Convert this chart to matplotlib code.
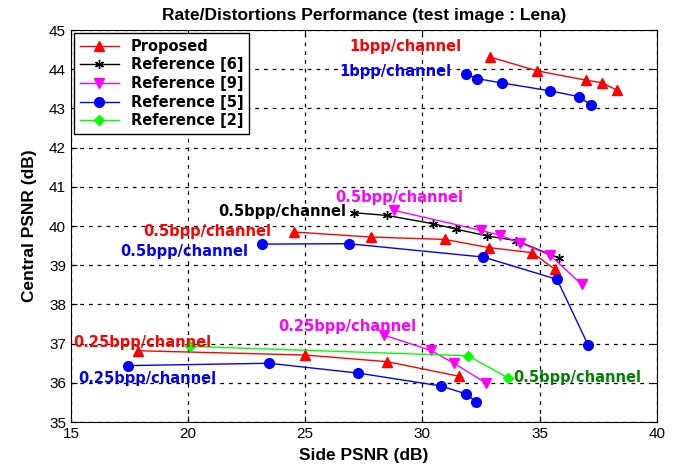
import numpy as np
import matplotlib.pyplot as plt

# Proposed
prop_1_x = [32.9, 34.9, 37.0, 37.65, 38.3]
prop_1_y = [44.31, 43.96, 43.72, 43.66, 43.47]
prop_05_x = [24.5, 27.8, 30.95, 32.85, 34.7, 35.65]
prop_05_y = [39.85, 39.72, 39.66, 39.45, 39.32, 38.9]
prop_025_x = [17.85, 25.0, 28.5, 31.55]
prop_025_y = [36.82, 36.71, 36.54, 36.17]

# Reference [6]
ref6_x = [27.1, 28.5, 30.45, 31.45, 32.75, 34.0, 35.85]
ref6_y = [40.34, 40.27, 40.06, 39.92, 39.75, 39.63, 39.18]

# Reference [9]
ref9_05_x = [28.8, 32.5, 33.3, 34.15, 35.45, 36.8]
ref9_05_y = [40.4, 39.89, 39.77, 39.58, 39.26, 38.51]
ref9_025_x = [28.35, 30.35, 31.35, 32.7]
ref9_025_y = [37.22, 36.83, 36.5, 36.0]

# Reference [5]
ref5_1_x = [31.85, 32.35, 33.4, 35.45, 36.7, 37.2]
ref5_1_y = [43.89, 43.76, 43.65, 43.45, 43.3, 43.08]
ref5_05_x = [23.15, 26.85, 32.6, 35.75, 37.07]
ref5_05_y = [39.54, 39.55, 39.21, 38.64, 36.97]
ref5_025_x = [17.45, 23.45, 27.25, 30.8, 31.85, 32.3]
ref5_025_y = [36.44, 36.5, 36.25, 35.92, 35.72, 35.52]

# Reference [2]
ref2_x = [20.1, 31.95, 33.65]
ref2_y = [36.93, 36.69, 36.13]

fig = plt.figure(figsize=(6.85, 4.70), dpi=100)
ax = fig.add_axes([0.1036, 0.102, 0.855, 0.834])

ms = 7.5
ax.plot(prop_1_x, prop_1_y, color='red', marker='^', ms=ms, lw=1, label='Proposed')
ax.plot(prop_05_x, prop_05_y, color='red', marker='^', ms=ms, lw=1)
ax.plot(prop_025_x, prop_025_y, color='red', marker='^', ms=ms, lw=1)

ax.plot(ref6_x, ref6_y, color='black', marker=(6, 2, 0), ms=6.5, mew=1, lw=1, label='Reference [6]')

ax.plot(ref9_05_x, ref9_05_y, color='magenta', marker='v', ms=ms, lw=1, label='Reference [9]')
ax.plot(ref9_025_x, ref9_025_y, color='magenta', marker='v', ms=ms, lw=1)

ax.plot(ref5_1_x, ref5_1_y, color='blue', marker='o', ms=7, lw=1, label='Reference [5]')
ax.plot(ref5_05_x, ref5_05_y, color='blue', marker='o', ms=7, lw=1)
ax.plot(ref5_025_x, ref5_025_y, color='blue', marker='o', ms=7, lw=1)

ax.plot(ref2_x, ref2_y, color='#00ff00', marker='D', ms=5.5, lw=1, label='Reference [2]')

tf = dict(fontsize=10.5, fontweight='bold', family=['DejaVu Sans'], va='center')
ax.text(26.9, 44.57, '1bpp/channel', color='red', **tf)
ax.text(26.45, 43.95, '1bpp/channel', color='blue', **tf)
ax.text(26.3, 40.74, '0.5bpp/channel', color='magenta', **tf)
ax.text(21.3, 40.36, '0.5bpp/channel', color='black', **tf)
ax.text(18.1, 39.87, '0.5bpp/channel', color='red', **tf)
ax.text(17.1, 39.36, '0.5bpp/channel', color='blue', **tf)
ax.text(23.85, 37.45, '0.25bpp/channel', color='magenta', **tf)
ax.text(15.1, 37.02, '0.25bpp/channel', color='red', **tf)
ax.text(15.3, 36.1, '0.25bpp/channel', color='blue', **tf)
ax.text(33.9, 36.13, '0.5bpp/channel', color='#008000', **tf)

narrow = ['Liberation Sans Narrow', 'Liberation Sans']
ax.set_xlim(15, 40)
ax.set_ylim(35, 45)
ax.set_xticks(np.arange(15, 41, 5))
ax.set_yticks(np.arange(35, 46, 1))
ax.tick_params(direction='in', length=4, labelsize=11, top=True, right=True)
for lab in ax.get_xticklabels() + ax.get_yticklabels():
    lab.set_family(narrow)
ax.grid(True, color='black', linestyle=(0, (3, 4)), lw=0.9)

ax.set_title('Rate/Distortions Performance (test image : Lena)', fontsize=12.5, fontweight='bold',
             family=narrow, pad=7)
ax.set_xlabel('Side PSNR (dB)', fontsize=12.5, fontweight='bold', family=narrow, labelpad=5)
ax.set_ylabel('Central PSNR (dB)', fontsize=12.5, fontweight='bold', family=narrow, labelpad=9)

leg = ax.legend(loc='upper left', fancybox=False, framealpha=1, edgecolor='black',
                prop={'family': 'DejaVu Sans', 'weight': 'bold', 'size': 10.5},
                handlelength=2.7, labelspacing=0.25, borderaxespad=0.2)
leg.get_frame().set_linewidth(1)

plt.savefig('out.png', dpi=100)
